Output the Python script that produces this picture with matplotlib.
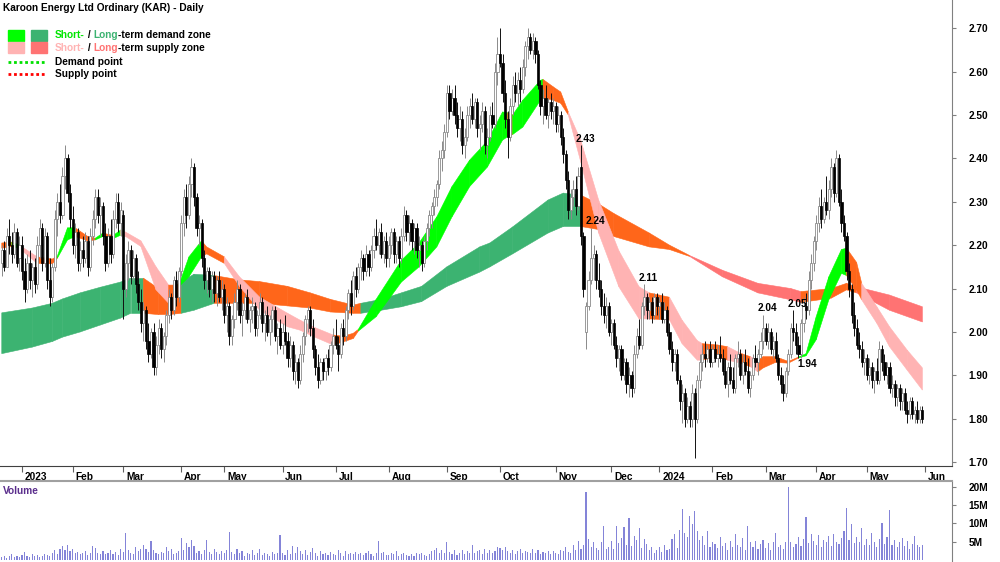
import numpy as np
import matplotlib.pyplot as plt
import matplotlib.transforms as mtransforms
from matplotlib.patches import Rectangle
from matplotlib.lines import Line2D

plt.rcParams['font.family'] = ['Liberation Sans', 'DejaVu Sans']

# ---------------- data ----------------
title = "Karoon Energy Ltd Ordinary (KAR) - Daily"

# trading days per month, Dec 2022 (partial) .. May 2024
month_days = [8, 20, 20, 23, 17, 23, 21, 21, 23, 21, 22, 22, 19, 21, 21, 20, 20, 23]
month_labels = ['2023', 'Feb', 'Mar', 'Apr', 'May', 'Jun', 'Jul', 'Aug', 'Sep', 'Oct',
                'Nov', 'Dec', '2024', 'Feb', 'Mar', 'Apr', 'May', 'Jun']

opens = [
    2.16, 2.19, 2.15, 2.22, 2.20, 2.18, 2.23, 2.17,
    2.20, 2.14, 2.10, 2.16, 2.12, 2.15, 2.11, 2.20, 2.24, 2.16, 2.22, 2.12, 2.08, 2.15, 2.26, 2.30, 2.27, 2.36, 2.40, 2.32,
    2.26, 2.20, 2.23, 2.16, 2.19, 2.17, 2.21, 2.15, 2.22, 2.26, 2.31, 2.27, 2.29, 2.22, 2.16, 2.22, 2.18, 2.26, 2.30, 2.25,
    2.27, 2.10, 2.16, 2.19, 2.13, 2.17, 2.11, 2.07, 2.02, 2.05, 1.98, 1.95, 2.00, 1.92, 1.97, 2.01, 1.96, 1.99, 2.04, 2.08, 2.05, 2.12, 2.08,
    2.14, 2.25, 2.31, 2.27, 2.34, 2.38, 2.31, 2.24, 2.25, 2.17, 2.12, 2.14, 2.10, 2.13, 2.09, 2.12, 2.08,
    2.10, 2.04, 2.06, 1.99, 2.03, 2.07, 2.10, 2.04, 2.05, 2.08, 2.03, 2.05, 2.06, 2.01, 2.04, 2.07, 2.02, 2.04, 2.00, 2.03, 2.05, 1.99, 2.01,
    1.97, 2.00, 1.98, 1.94, 1.97, 1.91, 1.93, 1.89, 1.95, 1.99, 2.03, 2.05, 2.01, 1.96, 1.92, 1.89, 1.93, 1.91, 1.94, 1.92, 1.97,
    1.99, 1.97, 1.95, 2.01, 1.99, 2.05, 2.09, 2.06, 2.13, 2.10, 2.15, 2.17, 2.14, 2.18, 2.15, 2.19, 2.22, 2.20, 2.23, 2.18, 2.21,
    2.17, 2.20, 2.23, 2.18, 2.21, 2.17, 2.22, 2.27, 2.23, 2.25, 2.21, 2.24, 2.19, 2.20, 2.16, 2.21, 2.24, 2.27, 2.29, 2.31, 2.34, 2.40, 2.42,
    2.46, 2.55, 2.51, 2.54, 2.50, 2.47, 2.49, 2.43, 2.45, 2.50, 2.52, 2.49, 2.53, 2.47, 2.48, 2.51, 2.43, 2.45, 2.50, 2.48, 2.60,
    2.64, 2.62, 2.55, 2.49, 2.45, 2.52, 2.57, 2.55, 2.58, 2.56, 2.61, 2.66, 2.68, 2.65, 2.67, 2.64, 2.57, 2.52, 2.54, 2.50, 2.53, 2.51,
    2.52, 2.48, 2.50, 2.45, 2.41, 2.35, 2.28, 2.31, 2.33, 2.29, 2.38, 2.22, 2.00, 2.06, 2.12, 2.17, 2.18, 2.12, 2.10, 2.06, 2.04, 2.06,
    2.00, 2.02, 1.97, 1.94, 1.96, 1.90, 1.93, 1.88, 1.90, 1.87, 1.95, 1.99, 1.97, 2.06, 2.08, 2.05, 2.07, 2.04, 2.08,
    2.06, 2.07, 2.03, 2.05, 2.00, 1.96, 1.93, 1.95, 1.89, 1.84, 1.86, 1.80, 1.83, 1.80, 1.86, 1.80, 1.89, 1.93, 1.95, 1.94, 1.96,
    1.93, 1.96, 1.94, 1.95, 1.94, 1.91, 1.88, 1.92, 1.89, 1.87, 1.94, 1.95, 1.90, 1.93, 1.91, 1.87, 1.90, 1.94, 1.93, 1.95, 1.98,
    2.01, 1.98, 2.00, 1.96, 1.98, 1.94, 1.90, 1.88, 1.86, 1.91, 1.95, 2.01, 2.00, 1.97, 1.95, 2.02, 2.06, 2.05, 2.12, 2.16,
    2.21, 2.25, 2.29, 2.26, 2.30, 2.28, 2.33, 2.38, 2.32, 2.40, 2.30, 2.25, 2.22, 2.14, 2.10, 2.04, 2.01, 1.97, 1.96, 1.93,
    1.94, 1.90, 1.92, 1.89, 1.91, 1.89, 1.96, 1.93, 1.90, 1.92, 1.87, 1.88, 1.85, 1.87, 1.84, 1.86, 1.82, 1.81, 1.84, 1.81, 1.82, 1.80, 1.82,
]
highs = [
    2.20, 2.21, 2.24, 2.26, 2.23, 2.25, 2.24, 2.22,
    2.22, 2.17, 2.18, 2.19, 2.16, 2.17, 2.22, 2.26, 2.25, 2.24, 2.23, 2.17, 2.16, 2.28, 2.32, 2.34, 2.38, 2.43, 2.41, 2.34,
    2.29, 2.25, 2.24, 2.21, 2.22, 2.23, 2.22, 2.24, 2.28, 2.33, 2.33, 2.31, 2.30, 2.25, 2.24, 2.26, 2.28, 2.32, 2.32, 2.30,
    2.28, 2.18, 2.21, 2.20, 2.19, 2.18, 2.14, 2.10, 2.07, 2.06, 2.02, 2.01, 2.02, 1.99, 2.03, 2.02, 2.00, 2.05, 2.10, 2.09, 2.13, 2.14, 2.15,
    2.27, 2.33, 2.34, 2.36, 2.40, 2.39, 2.32, 2.27, 2.26, 2.19, 2.15, 2.15, 2.14, 2.14, 2.13, 2.14, 2.12,
    2.11, 2.08, 2.07, 2.04, 2.09, 2.12, 2.11, 2.07, 2.09, 2.10, 2.06, 2.08, 2.07, 2.05, 2.09, 2.08, 2.05, 2.06, 2.04, 2.06, 2.06, 2.02, 2.03,
    2.02, 2.04, 2.00, 1.99, 1.98, 1.95, 1.94, 1.97, 2.00, 2.04, 2.06, 2.06, 2.03, 1.97, 1.95, 1.94, 1.94, 1.95, 1.96, 1.98, 2.01,
    2.03, 1.99, 2.02, 2.03, 2.06, 2.10, 2.12, 2.14, 2.15, 2.16, 2.19, 2.18, 2.20, 2.19, 2.20, 2.24, 2.26, 2.24, 2.25, 2.22, 2.23,
    2.22, 2.24, 2.24, 2.22, 2.22, 2.24, 2.29, 2.28, 2.27, 2.26, 2.25, 2.25, 2.22, 2.21, 2.22, 2.25, 2.28, 2.30, 2.33, 2.35, 2.42, 2.44, 2.48,
    2.57, 2.57, 2.56, 2.57, 2.53, 2.52, 2.51, 2.47, 2.52, 2.54, 2.55, 2.54, 2.54, 2.50, 2.53, 2.52, 2.47, 2.52, 2.53, 2.62, 2.68,
    2.70, 2.64, 2.58, 2.51, 2.54, 2.59, 2.60, 2.60, 2.61, 2.63, 2.67, 2.70, 2.69, 2.69, 2.68, 2.65, 2.58, 2.56, 2.57, 2.54, 2.55, 2.54,
    2.53, 2.52, 2.51, 2.47, 2.42, 2.37, 2.33, 2.35, 2.36, 2.38, 2.43, 2.23, 2.07, 2.14, 2.24, 2.20, 2.19, 2.16, 2.12, 2.09, 2.08, 2.07,
    2.03, 2.03, 1.99, 1.97, 1.97, 1.94, 1.94, 1.92, 1.91, 1.97, 2.01, 2.03, 2.07, 2.11, 2.09, 2.08, 2.08, 2.09, 2.09,
    2.08, 2.09, 2.07, 2.06, 2.02, 1.98, 1.96, 1.96, 1.90, 1.88, 1.87, 1.85, 1.84, 1.88, 1.87, 1.90, 1.95, 1.97, 1.98, 1.97, 1.98,
    1.97, 1.98, 1.97, 1.99, 1.96, 1.94, 1.93, 1.95, 1.92, 1.95, 1.98, 1.96, 1.95, 1.96, 1.94, 1.91, 1.95, 1.97, 1.96, 2.00, 2.04,
    2.02, 2.02, 2.01, 1.99, 2.00, 1.95, 1.92, 1.90, 1.92, 1.96, 2.02, 2.05, 2.02, 1.99, 2.03, 2.08, 2.09, 2.14, 2.18, 2.22,
    2.27, 2.31, 2.33, 2.31, 2.36, 2.35, 2.40, 2.39, 2.42, 2.41, 2.33, 2.27, 2.23, 2.16, 2.11, 2.07, 2.03, 2.00, 1.98, 1.96,
    1.95, 1.94, 1.93, 1.92, 1.94, 1.98, 1.97, 1.95, 1.93, 1.93, 1.90, 1.89, 1.88, 1.88, 1.87, 1.87, 1.84, 1.85, 1.85, 1.83, 1.84, 1.83, 1.83,
]
lows = [
    2.13, 2.14, 2.15, 2.18, 2.16, 2.17, 2.15, 2.14,
    2.12, 2.07, 2.09, 2.10, 2.08, 2.09, 2.10, 2.17, 2.14, 2.15, 2.10, 2.06, 2.07, 2.14, 2.22, 2.25, 2.26, 2.33, 2.30, 2.24,
    2.18, 2.17, 2.14, 2.14, 2.15, 2.16, 2.13, 2.14, 2.20, 2.24, 2.25, 2.22, 2.20, 2.14, 2.15, 2.16, 2.17, 2.24, 2.23, 2.22,
    2.03, 2.08, 2.12, 2.11, 2.12, 2.09, 2.05, 2.00, 1.98, 1.96, 1.93, 1.94, 1.90, 1.90, 1.95, 1.94, 1.93, 1.97, 2.02, 2.03, 2.04, 2.06, 2.07,
    2.13, 2.22, 2.24, 2.26, 2.31, 2.29, 2.22, 2.20, 2.15, 2.10, 2.09, 2.08, 2.07, 2.07, 2.06, 2.07, 2.05,
    2.02, 2.00, 1.97, 1.97, 2.01, 2.05, 2.02, 1.99, 2.03, 2.02, 2.00, 2.02, 1.99, 1.99, 2.03, 2.00, 1.98, 1.99, 1.97, 2.00, 1.98, 1.95, 1.96,
    1.95, 1.97, 1.92, 1.92, 1.89, 1.88, 1.87, 1.88, 1.93, 1.97, 2.00, 1.99, 1.94, 1.90, 1.87, 1.88, 1.89, 1.89, 1.90, 1.91, 1.95,
    1.96, 1.91, 1.94, 1.97, 1.98, 2.03, 2.04, 2.05, 2.08, 2.09, 2.12, 2.12, 2.13, 2.13, 2.14, 2.17, 2.19, 2.18, 2.17, 2.16, 2.15,
    2.15, 2.18, 2.16, 2.16, 2.15, 2.16, 2.21, 2.21, 2.20, 2.19, 2.18, 2.17, 2.15, 2.14, 2.15, 2.19, 2.22, 2.24, 2.27, 2.29, 2.33, 2.37, 2.40,
    2.45, 2.49, 2.50, 2.48, 2.45, 2.44, 2.41, 2.40, 2.44, 2.47, 2.48, 2.47, 2.45, 2.42, 2.46, 2.41, 2.40, 2.44, 2.47, 2.47, 2.57,
    2.61, 2.53, 2.47, 2.40, 2.44, 2.50, 2.53, 2.52, 2.53, 2.55, 2.59, 2.63, 2.64, 2.63, 2.62, 2.56, 2.50, 2.48, 2.49, 2.47, 2.49, 2.48,
    2.46, 2.46, 2.43, 2.39, 2.33, 2.26, 2.26, 2.29, 2.27, 2.28, 2.20, 2.08, 1.96, 2.05, 2.11, 2.12, 2.10, 2.08, 2.04, 2.02, 2.01, 1.99,
    1.97, 1.96, 1.92, 1.91, 1.89, 1.89, 1.86, 1.85, 1.85, 1.86, 1.94, 1.96, 1.96, 2.04, 2.03, 2.03, 2.02, 2.03, 2.04,
    2.03, 2.02, 2.02, 1.99, 1.95, 1.91, 1.91, 1.88, 1.82, 1.79, 1.78, 1.79, 1.78, 1.78, 1.71, 1.79, 1.87, 1.91, 1.92, 1.93, 1.92,
    1.92, 1.93, 1.92, 1.93, 1.90, 1.87, 1.85, 1.88, 1.86, 1.86, 1.92, 1.89, 1.88, 1.90, 1.86, 1.85, 1.89, 1.92, 1.90, 1.94, 1.96,
    1.97, 1.96, 1.95, 1.94, 1.93, 1.89, 1.86, 1.84, 1.85, 1.90, 1.94, 1.98, 1.95, 1.94, 1.94, 2.00, 2.03, 2.04, 2.10, 2.14,
    2.19, 2.23, 2.24, 2.25, 2.27, 2.26, 2.31, 2.30, 2.31, 2.29, 2.23, 2.21, 2.12, 2.08, 2.02, 1.99, 1.96, 1.94, 1.92, 1.90,
    1.89, 1.88, 1.87, 1.86, 1.88, 1.88, 1.91, 1.89, 1.88, 1.86, 1.85, 1.83, 1.83, 1.82, 1.82, 1.81, 1.79, 1.80, 1.80, 1.79, 1.79, 1.79, 1.79,
]
closes = [
    2.19, 2.15, 2.22, 2.20, 2.18, 2.23, 2.16, 2.20,
    2.14, 2.10, 2.16, 2.12, 2.15, 2.11, 2.20, 2.24, 2.16, 2.22, 2.12, 2.08, 2.15, 2.26, 2.30, 2.27, 2.36, 2.40, 2.32, 2.26,
    2.20, 2.23, 2.16, 2.19, 2.17, 2.21, 2.15, 2.22, 2.26, 2.31, 2.27, 2.29, 2.22, 2.16, 2.22, 2.18, 2.26, 2.30, 2.25, 2.28,
    2.10, 2.16, 2.19, 2.13, 2.17, 2.11, 2.07, 2.02, 2.05, 1.98, 1.95, 2.00, 1.92, 1.97, 2.01, 1.96, 1.99, 2.04, 2.08, 2.05, 2.12, 2.08, 2.14,
    2.25, 2.31, 2.27, 2.34, 2.38, 2.31, 2.24, 2.25, 2.17, 2.12, 2.14, 2.10, 2.13, 2.09, 2.12, 2.08, 2.10,
    2.04, 2.06, 1.99, 2.03, 2.07, 2.10, 2.04, 2.05, 2.08, 2.03, 2.05, 2.06, 2.01, 2.04, 2.07, 2.02, 2.04, 2.00, 2.03, 2.05, 1.99, 2.01, 1.97,
    2.00, 1.98, 1.94, 1.97, 1.91, 1.93, 1.89, 1.95, 1.99, 2.03, 2.05, 2.01, 1.96, 1.92, 1.89, 1.93, 1.91, 1.94, 1.92, 1.97, 1.99,
    1.97, 1.95, 2.01, 1.99, 2.05, 2.09, 2.06, 2.13, 2.10, 2.15, 2.17, 2.14, 2.18, 2.15, 2.19, 2.22, 2.20, 2.23, 2.18, 2.21, 2.17,
    2.20, 2.23, 2.18, 2.21, 2.17, 2.22, 2.27, 2.23, 2.25, 2.21, 2.24, 2.19, 2.20, 2.16, 2.21, 2.24, 2.27, 2.29, 2.31, 2.34, 2.40, 2.42, 2.46,
    2.55, 2.51, 2.54, 2.50, 2.47, 2.49, 2.43, 2.45, 2.50, 2.52, 2.49, 2.53, 2.47, 2.48, 2.51, 2.43, 2.45, 2.50, 2.48, 2.60, 2.64,
    2.62, 2.55, 2.49, 2.45, 2.52, 2.57, 2.55, 2.58, 2.56, 2.61, 2.66, 2.68, 2.65, 2.67, 2.64, 2.57, 2.52, 2.54, 2.50, 2.53, 2.51, 2.52,
    2.48, 2.50, 2.45, 2.41, 2.35, 2.28, 2.31, 2.33, 2.29, 2.36, 2.22, 2.10, 2.06, 2.12, 2.17, 2.18, 2.12, 2.10, 2.06, 2.04, 2.06, 2.00,
    2.02, 1.97, 1.94, 1.96, 1.90, 1.93, 1.88, 1.90, 1.87, 1.95, 1.99, 1.97, 2.06, 2.08, 2.05, 2.07, 2.04, 2.08, 2.06,
    2.07, 2.03, 2.05, 2.00, 1.96, 1.93, 1.95, 1.89, 1.84, 1.86, 1.80, 1.83, 1.80, 1.86, 1.80, 1.89, 1.93, 1.95, 1.94, 1.96, 1.93,
    1.96, 1.94, 1.95, 1.94, 1.91, 1.88, 1.92, 1.89, 1.87, 1.94, 1.95, 1.90, 1.93, 1.91, 1.87, 1.90, 1.94, 1.93, 1.95, 1.98, 2.01,
    1.98, 2.00, 1.96, 1.98, 1.94, 1.90, 1.88, 1.86, 1.91, 1.95, 2.01, 2.00, 1.97, 1.95, 2.02, 2.06, 2.05, 2.12, 2.16, 2.21,
    2.25, 2.29, 2.26, 2.30, 2.28, 2.33, 2.38, 2.32, 2.40, 2.30, 2.25, 2.22, 2.14, 2.10, 2.04, 2.01, 1.97, 1.96, 1.93, 1.94,
    1.90, 1.92, 1.89, 1.91, 1.89, 1.96, 1.93, 1.90, 1.92, 1.87, 1.88, 1.85, 1.87, 1.84, 1.86, 1.82, 1.81, 1.84, 1.81, 1.82, 1.80, 1.82, 1.80,
]
# volume in millions
volume = [
    0.8, 1.2, 0.6, 1.0, 1.5, 0.7, 1.1, 0.9,
    1.3, 2.1, 1.0, 0.8, 1.6, 1.2, 1.4, 0.9, 1.1, 1.7, 1.3, 1.0, 2.0, 2.8, 1.5, 3.0, 3.8, 2.6, 4.2, 2.4,
    3.1, 1.8, 2.2, 1.5, 1.9, 2.5, 1.4, 1.8, 3.8, 3.2, 2.0, 1.6, 2.4, 1.5, 1.8, 2.6, 1.7, 2.2, 1.4, 2.9,
    2.1, 7.4, 2.6, 2.0, 1.6, 3.4, 2.4, 3.0, 4.2, 3.0, 2.2, 5.2, 2.6, 2.0, 1.5, 2.2, 1.8, 3.5, 2.4, 3.0, 1.6, 2.0, 2.5,
    6.0, 2.8, 4.5, 3.6, 5.4, 3.8, 2.0, 2.4, 1.6, 2.8, 5.4, 2.2, 1.7, 3.0, 2.1, 1.5, 2.4,
    1.9, 2.6, 7.7, 2.2, 1.5, 3.0, 1.8, 2.5, 1.2, 2.0, 1.6, 2.7, 1.4, 1.9, 2.9, 1.3, 2.0, 1.6, 1.2, 2.2, 1.5, 1.8, 6.8,
    2.0, 1.4, 2.6, 1.6, 3.9, 2.0, 3.5, 2.4, 1.6, 2.8, 1.3, 2.1, 3.2, 1.8, 1.2, 2.4, 1.5, 1.9, 1.3, 2.2, 1.6,
    1.4, 2.6, 1.8, 1.2, 2.3, 1.5, 2.0, 1.6, 2.1, 1.5, 1.8, 1.3, 1.9, 2.5, 1.6, 1.2, 2.0, 5.3, 1.8, 2.2, 1.4,
    1.3, 1.9, 1.6, 2.3, 1.2, 1.7, 1.9, 1.3, 1.0, 1.6, 1.2, 1.8, 1.5, 2.0, 1.4, 1.1, 1.7, 2.3, 2.8, 3.2, 1.9, 2.6, 2.0,
    5.0, 2.2, 1.6, 2.6, 1.4, 2.0, 2.8, 1.6, 2.3, 1.8, 4.1, 1.9, 2.4, 2.7, 1.6, 3.0, 2.0, 2.6, 1.8, 2.4, 3.6,
    3.2, 2.8, 3.4, 2.3, 2.0, 2.7, 1.6, 2.4, 3.0, 1.9, 2.5, 2.2, 1.8, 3.0, 2.0, 2.6, 1.5, 2.2, 1.9, 2.4, 1.7, 2.3,
    2.0, 1.6, 2.8, 2.4, 3.6, 2.2, 1.8, 4.0, 2.6, 5.2, 3.0, 4.2, 18.5, 5.6, 3.4, 5.0, 3.2, 2.6, 4.8, 9.3, 3.0, 3.6,
    5.2, 3.0, 9.3, 4.6, 6.0, 9.0, 4.2, 11.6, 3.8, 6.5, 5.4, 8.8, 3.2, 5.6, 4.4, 2.8, 3.6, 2.0, 2.6,
    3.4, 2.2, 4.0, 2.8, 3.0, 5.6, 7.2, 3.2, 8.2, 14.0, 7.5, 6.2, 12.0, 9.8, 13.4, 8.0, 5.4, 6.6, 4.2, 7.8, 3.6,
    5.0, 4.4, 3.2, 6.4, 3.8, 4.6, 2.8, 5.2, 3.6, 7.0, 4.0, 3.4, 6.0, 2.8, 9.3, 4.8, 3.6, 5.2, 3.0, 4.4, 5.4,
    3.2, 4.6, 2.8, 5.0, 7.4, 3.4, 4.2, 3.0, 4.8, 20.0, 5.0, 3.6, 4.4, 6.2, 3.8, 5.6, 11.7, 4.6, 7.0, 5.2,
    4.2, 6.9, 3.6, 5.4, 4.8, 6.6, 3.8, 7.2, 5.0, 4.4, 6.0, 8.0, 14.3, 5.4, 9.7, 4.6, 6.2, 5.0, 8.8, 4.2,
    5.6, 4.0, 7.4, 5.0, 3.6, 5.8, 10.2, 4.4, 6.2, 13.7, 4.0, 5.4, 3.4, 4.8, 6.0, 3.8, 5.2, 3.0, 4.4, 6.6, 4.0, 3.6, 4.2,
]

# short-term zone: bar index, upper edge, lower edge, colour of the stretch to the next point
st_idx = [0, 4, 7, 14, 20, 22, 26, 29, 34, 37, 40, 44, 47, 49, 55, 61, 66, 70, 74, 79, 81, 88, 94, 102,
          113, 118, 123, 131, 135, 139, 141, 148, 158, 165, 172, 178, 185, 192, 198, 200, 202, 206, 213,
          214, 218, 221, 224, 229, 236, 244, 252, 256, 264, 269, 275, 277, 283, 287, 292, 296, 299, 301,
          306, 311, 315, 318, 322, 327, 332, 334, 338, 340, 346, 351, 358, 364]
st_top = [2.205, 2.207, 2.200, 2.173, 2.168, 2.175, 2.240, 2.240, 2.220, 2.216, 2.228, 2.222, 2.235,
          2.230, 2.210, 2.150, 2.108, 2.108, 2.173, 2.210, 2.196, 2.173, 2.127, 2.080, 2.043, 2.027,
          2.012, 1.993, 1.990, 1.997, 2.006, 2.075, 2.165, 2.205, 2.265, 2.335, 2.396, 2.440, 2.507,
          2.505, 2.500, 2.534, 2.580, 2.582, 2.565, 2.553, 2.507, 2.440, 2.304, 2.187, 2.104, 2.090,
          2.080, 2.027, 1.980, 1.973, 1.970, 1.966, 1.951, 1.943, 1.935, 1.943, 1.943, 1.932, 1.942,
          1.950, 2.035, 2.127, 2.190, 2.193, 2.160, 2.112, 2.058, 2.012, 1.958, 1.917]
st_bot = [2.193, 2.197, 2.192, 2.158, 2.157, 2.170, 2.212, 2.220, 2.210, 2.212, 2.220, 2.215, 2.223,
          2.220, 2.197, 2.097, 2.066, 2.104, 2.127, 2.173, 2.180, 2.158, 2.105, 2.050, 2.012, 2.004,
          1.990, 1.970, 1.977, 1.985, 2.002, 2.035, 2.115, 2.150, 2.196, 2.265, 2.335, 2.380, 2.442,
          2.450, 2.455, 2.472, 2.534, 2.540, 2.534, 2.527, 2.500, 2.390, 2.228, 2.104, 2.030, 2.030,
          2.028, 1.973, 1.935, 1.935, 1.943, 1.935, 1.928, 1.920, 1.908, 1.917, 1.930, 1.928, 1.940,
          1.945, 1.982, 2.074, 2.135, 2.130, 2.097, 2.074, 2.020, 1.966, 1.912, 1.866]
st_state = ['o', 'g', 'p', 'o', 'o', 'g', 'g', 'o', 'o', 'g', 'o', 'g', 'p', 'p', 'p', 'p', 'o', 'g',
            'g', 'o', 'o', 'p', 'p', 'p', 'p', 'p', 'p', 'o', 'o', 'o', 'g', 'g', 'g', 'g', 'g', 'g',
            'g', 'g', 'g', 'o', 'g', 'g', 'g', 'o', 'o', 'o', 'p', 'p', 'p', 'p', 'p', 'o', 'p', 'p',
            'p', 'o', 'o', 'p', 'o', 'p', 'o', 'o', 'o', 'o', 'g', 'g', 'g', 'g', 'g', 'o', 'o', 'p',
            'p', 'p', 'p', 'p']

# long-term zone
lt_idx = [0, 12, 20, 24, 31, 39, 47, 51, 56, 62, 66, 71, 76, 84, 94, 102, 113, 122, 130, 139, 142,
          150, 158, 166, 176, 189, 193, 202, 216, 222, 229, 236, 242, 256, 264, 272, 285, 299, 312,
          316, 328, 334, 338, 351, 364]
lt_top = [2.044, 2.055, 2.066, 2.076, 2.090, 2.103, 2.115, 2.124, 2.124, 2.100, 2.095, 2.116, 2.133,
          2.130, 2.120, 2.116, 2.105, 2.090, 2.075, 2.062, 2.066, 2.075, 2.090, 2.105, 2.150, 2.196,
          2.205, 2.242, 2.304, 2.320, 2.315, 2.295, 2.273, 2.228, 2.200, 2.176, 2.142, 2.112, 2.100,
          2.093, 2.100, 2.112, 2.104, 2.085, 2.058]
lt_bot = [1.950, 1.965, 1.978, 1.988, 2.000, 2.016, 2.032, 2.043, 2.043, 2.040, 2.040, 2.043, 2.050,
          2.066, 2.066, 2.066, 2.060, 2.055, 2.046, 2.043, 2.043, 2.050, 2.058, 2.070, 2.105, 2.138,
          2.150, 2.180, 2.228, 2.243, 2.243, 2.236, 2.220, 2.196, 2.190, 2.174, 2.127, 2.090, 2.074,
          2.068, 2.078, 2.097, 2.090, 2.050, 2.023]
lt_state = ['G', 'G', 'G', 'G', 'G', 'G', 'G', 'G', 'o', 'o', 'o', 'G', 'G', 'o', 'o', 'o', 'o', 'o',
            'o', 'o', 'G', 'G', 'G', 'G', 'G', 'G', 'G', 'G', 'G', 'G', 'o', 'o', 'o', 'o', 'o', 's',
            's', 's', 's', 'o', 'o', 'o', 's', 's', 's']

# demand / supply point labels
ann_idx = [229, 233, 254, 301, 313, 315]
ann_val = [2.43, 2.24, 2.11, 2.04, 2.05, 1.94]
ann_side = ['above', 'above', 'above', 'above', 'above', 'below']

vol_ticks = [5, 10, 15, 20]
price_ticks = [1.70, 1.80, 1.90, 2.00, 2.10, 2.20, 2.30, 2.40, 2.50, 2.60, 2.70]

# ---------------- styling ----------------
ZONE_COLORS = {'g': '#00ff00', 'p': '#ffb3b3', 'o': '#ff661a', 'G': '#3cb371', 's': '#ff7373'}
FS = 7.3

fig = plt.figure(figsize=(10, 5.62), dpi=100)
ax = fig.add_axes([0.0, 0.170, 0.952, 0.830])
axv = fig.add_axes([0.0, 0.0018, 0.952, 0.1423])

x = np.arange(len(closes))
o = np.array(opens)
h = np.array(highs)
l = np.array(lows)
c = np.array(closes)


def draw_zone(idx, top, bot, state):
    for k in range(len(idx) - 1):
        col = ZONE_COLORS[state[k]]
        xs = [idx[k], idx[k + 1], idx[k + 1], idx[k]]
        ys = [top[k], top[k + 1], bot[k + 1], bot[k]]
        ax.fill(xs, ys, facecolor=col, edgecolor=col, lw=0.4, zorder=1)


draw_zone(lt_idx, lt_top, lt_bot, lt_state)
draw_zone(st_idx, st_top, st_bot, st_state)

# candles: hollow grey for up days, black for down days
up = c >= o
ax.vlines(x[up], l[up], h[up], color='#8a8a8a', lw=0.7, zorder=3)
ax.vlines(x[~up], l[~up], h[~up], color='#111111', lw=0.7, zorder=3)
body_lo = np.minimum(o, c)
body_h = np.maximum(np.abs(c - o), 0.002)
ax.bar(x[up], body_h[up], bottom=body_lo[up], width=0.85, facecolor='white',
       edgecolor='#8a8a8a', lw=0.6, zorder=4)
ax.bar(x[~up], body_h[~up], bottom=body_lo[~up], width=0.85, facecolor='black',
       edgecolor='black', lw=0.5, zorder=4)

# demand / supply labels
for i, v, side in zip(ann_idx, ann_val, ann_side):
    if side == 'above':
        ax.annotate(f'{v:.2f}', (i, v), xytext=(3, 1), textcoords='offset points',
                    ha='center', va='bottom', fontsize=FS, fontweight='bold', zorder=6)
    else:
        ax.annotate(f'{v:.2f}', (i, v), xytext=(6, -1), textcoords='offset points',
                    ha='center', va='top', fontsize=FS, fontweight='bold', zorder=6)

xlim = (-0.7, 375.7)
ax.set_xlim(*xlim)
ax.set_ylim(1.690, 2.765)
ax.yaxis.tick_right()
ax.set_yticks(price_ticks)
ax.set_yticklabels([f'{t:.2f}' for t in price_ticks], fontsize=FS, fontweight='bold')
ax.tick_params(axis='y', length=3, pad=9, color='#808080')

starts = np.cumsum(month_days)
ax.set_xticks(starts)
ax.set_xticklabels(month_labels, fontsize=FS, fontweight='bold', ha='left')
ax.tick_params(axis='x', length=4, pad=0, color='#606060')
shift = mtransforms.ScaledTranslation(2 / 72, 0, fig.dpi_scale_trans)
for lab in ax.get_xticklabels():
    lab.set_transform(lab.get_transform() + shift)

for side in ['left', 'top']:
    ax.spines[side].set_visible(False)
ax.spines['right'].set_color('#808080')
ax.spines['bottom'].set_color('#404040')

# volume panel
axv.bar(x, volume, width=0.45, color='#8484d8', zorder=2)
axv.set_xlim(*xlim)
axv.set_ylim(-0.3, 21.6)
axv.yaxis.tick_right()
axv.set_yticks(vol_ticks)
axv.set_yticklabels([f'{t}M' for t in vol_ticks], fontsize=FS, fontweight='bold')
axv.tick_params(axis='y', length=3, pad=9, color='#808080')
axv.set_xticks([])
for side in ['left', 'bottom']:
    axv.spines[side].set_visible(False)
axv.spines['right'].set_color('#808080')
axv.spines['top'].set_color('#a0a0a0')
axv.spines['top'].set_linewidth(1.5)
axv.text(0.003, 0.87, 'Volume', transform=axv.transAxes, fontsize=FS, fontweight='bold',
         color='#5a2d8c', va='center', ha='left')

# title and legend (pixel positions)
W, H = 1000, 562


def fx(px):
    return px / W


def fy(py):
    return 1 - py / H


fig.text(fx(3), fy(8), title, fontsize=FS, fontweight='bold', va='center', ha='left')

fig.add_artist(Rectangle((fx(8), fy(41)), fx(16), 11 / H, color=ZONE_COLORS['g']))
fig.add_artist(Rectangle((fx(31), fy(41)), fx(16), 11 / H, color=ZONE_COLORS['G']))
fig.add_artist(Rectangle((fx(8), fy(53)), fx(16), 11 / H, color=ZONE_COLORS['p']))
fig.add_artist(Rectangle((fx(31), fy(53)), fx(16), 11 / H, color=ZONE_COLORS['s']))
fig.add_artist(Line2D([fx(8), fx(45)], [fy(62), fy(62)], color='#00e000', lw=2, ls=(0, (1, 1))))
fig.add_artist(Line2D([fx(8), fx(45)], [fy(74), fy(74)], color='#ff0000', lw=2, ls=(0, (1, 1))))

renderer = fig.canvas.get_renderer()


def multicolor(px, py, pieces):
    xpos = fx(px)
    for txt, col in pieces:
        t = fig.text(xpos, fy(py), txt, fontsize=FS, fontweight='bold', color=col,
                     va='center', ha='left')
        bb = t.get_window_extent(renderer=renderer)
        xpos = bb.x1 / fig.bbox.width


multicolor(55, 35, [('Short-', '#00e600'), (' / ', 'black'), ('Long', '#3cb371'),
                    ('-term demand zone', 'black')])
multicolor(55, 48, [('Short-', '#ffb3b3'), (' / ', 'black'), ('Long', '#ff7373'),
                    ('-term supply zone', 'black')])
fig.text(fx(55), fy(62), 'Demand point', fontsize=FS, fontweight='bold', va='center', ha='left')
fig.text(fx(55), fy(74), 'Supply point', fontsize=FS, fontweight='bold', va='center', ha='left')

fig.savefig('out.png', dpi=100, facecolor='white')
